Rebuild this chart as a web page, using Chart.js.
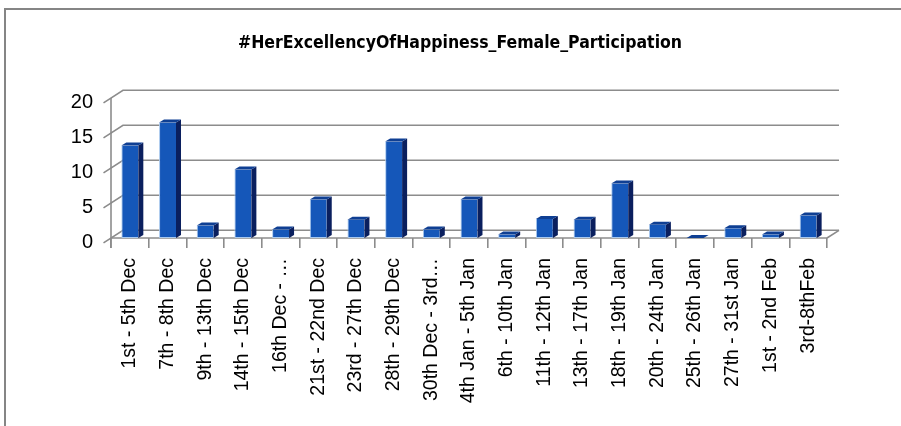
<!DOCTYPE html>
<html>
<head>
<meta charset="utf-8">
<script src="https://cdn.jsdelivr.net/npm/chart.js@4"></script>
<style>
  html, body { margin: 0; padding: 0; background: #fff; }
  #wrap { width: 901px; height: 426px; }
</style>
</head>
<body>
<div id="wrap"><canvas id="femaleChart" width="901" height="426"></canvas></div>
<script>
// Chart data
const chartTitle = '#HerExcellencyOfHappiness_Female_Participation';
const categories = [
    '1st - 5th Dec', '7th - 8th Dec', '9th - 13th Dec', '14th - 15th Dec', '16th Dec - \u2026',
    '21st - 22nd Dec', '23rd - 27th Dec', '28th - 29th Dec', '30th Dec - 3rd\u2026', '4th Jan - 5th Jan',
    '6th - 10th Jan', '11th - 12th Jan', '13th - 17th Jan', '18th - 19th Jan', '20th - 24th Jan',
    '25th - 26th Jan', '27th - 31st Jan', '1st - 2nd Feb', '3rd-8thFeb'
];
const participation = [13.2, 16.5, 1.8, 9.8, 1.2, 5.5, 2.6, 13.8, 1.2, 5.5, 0.5, 2.7, 2.6, 7.8, 1.9, 0, 1.4, 0.5, 3.2];
const yTicks = [0, 5, 10, 15, 20];

// 3D look: depth of the wall / floor and of each bar
const DX = 12, DY = 7.7;
const BX = 5, BY = 3;
const gridColor = '#8c8c8c';

function line(ctx, x1, y1, x2, y2) {
    ctx.beginPath();
    ctx.moveTo(x1, y1);
    ctx.lineTo(x2, y2);
    ctx.stroke();
}

const wall3d = {
    id: 'wall3d',
    beforeDraw(chart) {
        const ctx = chart.ctx;
        ctx.save();
        ctx.strokeStyle = '#858585';
        ctx.lineWidth = 2;
        line(ctx, 5, 9, chart.width, 9);
        line(ctx, 5, 8, 5, chart.height);
        // title, centred over the whole chart
        ctx.fillStyle = '#000';
        ctx.font = 'bold 17.5px "Liberation Sans Narrow", "DejaVu Sans Condensed", sans-serif';
        ctx.textAlign = 'center';
        ctx.textBaseline = 'middle';
        ctx.fillText(chartTitle, 460, 43);
        ctx.restore();
    },
    beforeDatasetsDraw(chart) {
        const { ctx, chartArea: a, scales: { y } } = chart;
        ctx.save();
        ctx.strokeStyle = gridColor;
        ctx.lineWidth = 1.6;
        yTicks.forEach(v => {
            const py = y.getPixelForValue(v);
            ctx.beginPath();
            ctx.moveTo(a.left - 7.5, py + 4.8);
            ctx.lineTo(a.left + DX, py - DY);
            ctx.lineTo(a.right + DX, py - DY);
            ctx.stroke();
        });
        // front axis and floor edge
        line(ctx, a.left, y.getPixelForValue(yTicks[yTicks.length - 1]), a.left, a.bottom + 10);
        line(ctx, a.left, a.bottom, a.right, a.bottom);
        line(ctx, a.right, a.bottom, a.right + DX, a.bottom - DY);
        ctx.restore();
    },
    afterDatasetsDraw(chart) {
        const ctx = chart.ctx;
        const meta = chart.getDatasetMeta(0);
        ctx.save();
        meta.data.forEach(bar => {
            const { x, y, base, width } = bar.getProps(['x', 'y', 'base', 'width'], true);
            const l = x - width / 2, r = x + width / 2;
            ctx.fillStyle = '#0a1f5e';
            ctx.beginPath();
            ctx.moveTo(r, y); ctx.lineTo(r + BX, y - BY);
            ctx.lineTo(r + BX, base - BY); ctx.lineTo(r, base);
            ctx.closePath(); ctx.fill();
            ctx.fillStyle = '#0f3f93';
            ctx.beginPath();
            ctx.moveTo(l, y); ctx.lineTo(l + BX, y - BY);
            ctx.lineTo(r + BX, y - BY); ctx.lineTo(r, y);
            ctx.closePath(); ctx.fill();
        });
        ctx.restore();
    }
};

const ctx = document.getElementById('femaleChart').getContext('2d');
const chart = new Chart(ctx, {
    type: 'bar',
    data: {
        labels: categories,
        datasets: [{
            label: 'Female Participation',
            data: participation,
            backgroundColor: '#1557b9',
            borderColor: '#a9c9ee',
            borderWidth: { left: 1, bottom: 1, top: 0, right: 0 },
            borderSkipped: false,
            barPercentage: 0.45,
            categoryPercentage: 1
        }]
    },
    options: {
        responsive: false,
        animation: false,
        layout: { padding: { left: 0, right: 74, top: 98, bottom: 0 } },
        plugins: {
            legend: { display: false },
            tooltip: { enabled: false },
            title: { display: false }
        },
        scales: {
            x: {
                grid: { display: true, drawOnChartArea: false, offset: true, tickLength: 10, color: gridColor, lineWidth: 1.6 },
                border: { display: false },
                ticks: {
                    autoSkip: false, maxRotation: 90, minRotation: 90, padding: 10,
                    color: '#000',
                    font: { family: '"Liberation Sans", Arial, sans-serif', size: 19.5 }
                },
                afterFit: s => { s.height = 188; }
            },
            y: {
                min: yTicks[0],
                max: yTicks[yTicks.length - 1],
                afterBuildTicks: s => { s.ticks = yTicks.map(v => ({ value: v })); },
                grid: { display: false },
                border: { display: false },
                ticks: {
                    padding: 10, labelOffset: 4, color: '#000',
                    font: { family: '"Liberation Sans", Arial, sans-serif', size: 20 }
                },
                afterFit: s => { s.width = 111; }
            }
        }
    },
    plugins: [wall3d]
});
</script>
</body>
</html>
